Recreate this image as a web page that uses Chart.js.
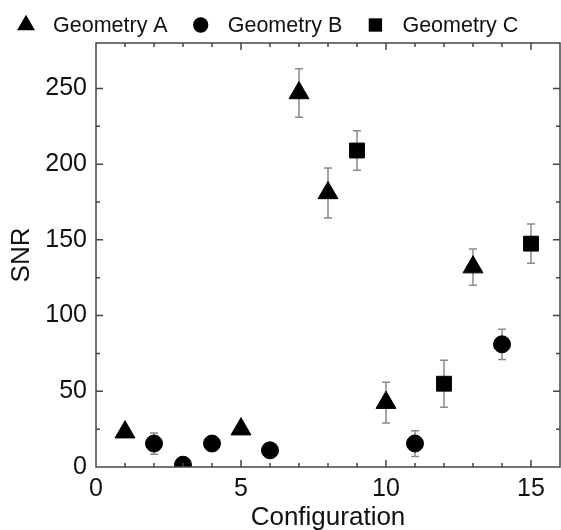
<!DOCTYPE html>
<html>
<head>
<meta charset="utf-8">
<script src="https://cdn.jsdelivr.net/npm/chart.js@4.4.1/dist/chart.umd.min.js"></script>
<style>
  html, body { margin: 0; padding: 0; background: #fff; }
  canvas { display: block; }
</style>
</head>
<body>
<canvas id="snrChart" width="561" height="530"></canvas>
<script>
/* ---------- Data ---------- */
const configA = [1, 5, 7, 8, 10, 13];
const snrA    = [23, 25, 247, 181, 42.5, 132];
const errA    = [3, 2, 16, 16.5, 13.5, 12];

const configB = [2, 3, 4, 6, 11, 14];
const snrB    = [15.5, 1.5, 15.5, 11, 15.5, 81];
const errB    = [7, 1, 3, 3, 8.5, 10];

const configC = [9, 12, 15];
const snrC    = [209, 55, 147.5];
const errC    = [13, 15.5, 13];

const seriesNames = ['Geometry A', 'Geometry B', 'Geometry C'];
const xTickLabels = [0, 5, 10, 15];
const yTickLabels = [0, 50, 100, 150, 200, 250];

const FONT = "'Liberation Sans', Arial, sans-serif";
const INK = '#111';
const AXIS = '#444';

/* ---------- Marker drawing (shared by legend) ---------- */
function drawMarker(ctx, style, x, y, r) {
  ctx.beginPath();
  if (style === 'triangle') {
    ctx.moveTo(x, y - r);
    ctx.lineTo(x + r * Math.sqrt(3) / 2, y + r / 2);
    ctx.lineTo(x - r * Math.sqrt(3) / 2, y + r / 2);
  } else if (style === 'circle') {
    ctx.arc(x, y, r, 0, Math.PI * 2);
  } else {
    const s = r * Math.SQRT1_2;
    ctx.rect(x - s, y - s, 2 * s, 2 * s);
  }
  ctx.closePath();
  ctx.fill();
}

function toPoints(xs, ys) {
  return xs.map((x, i) => ({ x, y: ys[i] }));
}

/* ---------- Plugins ---------- */
// vertical error bars with caps, drawn under the markers
const errorBars = {
  id: 'errorBars',
  beforeDatasetsDraw(chart) {
    const { ctx, scales: { x, y } } = chart;
    ctx.save();
    ctx.strokeStyle = '#8a8a8a';
    ctx.lineWidth = 1.5;
    chart.data.datasets.forEach(ds => {
      ds.data.forEach((p, i) => {
        const e = ds.errors[i];
        const px = x.getPixelForValue(p.x);
        const top = y.getPixelForValue(p.y + e);
        const bot = y.getPixelForValue(p.y - e);
        ctx.beginPath();
        ctx.moveTo(px, top); ctx.lineTo(px, bot);
        ctx.moveTo(px - 4, top); ctx.lineTo(px + 4, top);
        ctx.moveTo(px - 4, bot); ctx.lineTo(px + 4, bot);
        ctx.stroke();
      });
    });
    ctx.restore();
  }
};

// closed box with inward major/minor ticks on all four sides
const frame = {
  id: 'frame',
  afterDatasetsDraw(chart) {
    const { ctx, chartArea: a, scales: { x, y } } = chart;
    ctx.save();
    ctx.strokeStyle = AXIS;
    ctx.lineWidth = 1.5;
    ctx.strokeRect(a.left, a.top, a.right - a.left, a.bottom - a.top);
    ctx.beginPath();
    x.ticks.forEach(t => {
      const v = t.value;
      if (v <= x.min || v >= x.max) return;
      const px = x.getPixelForValue(v);
      const len = xTickLabels.includes(v) ? 7 : 4;
      ctx.moveTo(px, a.bottom); ctx.lineTo(px, a.bottom - len);
      ctx.moveTo(px, a.top); ctx.lineTo(px, a.top + len);
    });
    y.ticks.forEach(t => {
      const v = t.value;
      if (v <= y.min || v >= y.max || v % 25 !== 0) return;
      const py = y.getPixelForValue(v);
      const len = yTickLabels.includes(v) ? 7 : 4;
      ctx.moveTo(a.left, py); ctx.lineTo(a.left + len, py);
      ctx.moveTo(a.right, py); ctx.lineTo(a.right - len, py);
    });
    ctx.stroke();
    ctx.restore();
  }
};

// legend row across the top
const topLegend = {
  id: 'topLegend',
  afterDraw(chart) {
    const { ctx } = chart;
    ctx.save();
    ctx.font = '21.5px ' + FONT;
    ctx.textBaseline = 'middle';
    let cx = 26;
    const cy = 25;
    chart.data.datasets.forEach(ds => {
      ctx.fillStyle = '#000';
      drawMarker(ctx, ds.pointStyle, cx, cy, ds.pointRadius * 0.9);
      ctx.fillStyle = INK;
      const tx = cx + 27;
      ctx.fillText(ds.label, tx, cy + 1);
      cx = tx + ctx.measureText(ds.label).width + 33;
    });
    ctx.restore();
  }
};

/* ---------- Chart ---------- */
const markerStyles = ['triangle', 'circle', 'rect'];
const markerRadii = [11.5, 8.5, 10.5];
const xs = [configA, configB, configC];
const ys = [snrA, snrB, snrC];
const errs = [errA, errB, errC];

new Chart(document.getElementById('snrChart'), {
  type: 'scatter',
  data: {
    datasets: seriesNames.map((name, k) => ({
      label: name,
      data: toPoints(xs[k], ys[k]),
      errors: errs[k],
      pointStyle: markerStyles[k],
      pointRadius: markerRadii[k],
      pointHoverRadius: markerRadii[k],
      backgroundColor: '#000',
      borderColor: '#000',
      borderWidth: 1,
      clip: 0
    }))
  },
  options: {
    responsive: false,
    animation: false,
    devicePixelRatio: 1,
    layout: {
      autoPadding: false,   // big markers would otherwise shrink the plot box
      padding: { top: 43, right: 1, left: 0, bottom: 0 }
    },
    plugins: {
      legend: { display: false },
      tooltip: { enabled: false }
    },
    scales: {
      x: {
        type: 'linear',
        min: 0, max: 16,
        grid: { display: false, drawTicks: false },
        border: { display: false },
        ticks: {
          stepSize: 1,
          autoSkip: false,
          maxRotation: 0,
          padding: 7,
          color: INK,
          font: { family: FONT, size: 25 },
          callback: v => xTickLabels.includes(v) ? String(v) : ''
        },
        title: {
          display: true,
          text: 'Configuration',
          color: INK,
          font: { family: FONT, size: 26 },
          padding: { top: 0, bottom: -3 }
        },
        afterFit: s => {
          s.height = 63;
          s.paddingLeft = 0;
          s.paddingRight = 0;
        }
      },
      y: {
        min: 0, max: 280,
        grid: { display: false, drawTicks: false },
        border: { display: false },
        ticks: {
          stepSize: 25,
          autoSkip: false,
          padding: 9,
          color: INK,
          font: { family: FONT, size: 25 },
          callback: v => yTickLabels.includes(v) ? String(v) : ''
        },
        title: {
          display: true,
          text: 'SNR',
          color: INK,
          font: { family: FONT, size: 26 },
          padding: { top: 6, bottom: 0 }
        },
        afterFit: s => {
          s.width = 96;
          s.paddingTop = 0;
          s.paddingBottom = 0;
        }
      }
    }
  },
  plugins: [errorBars, frame, topLegend]
});
</script>
</body>
</html>
